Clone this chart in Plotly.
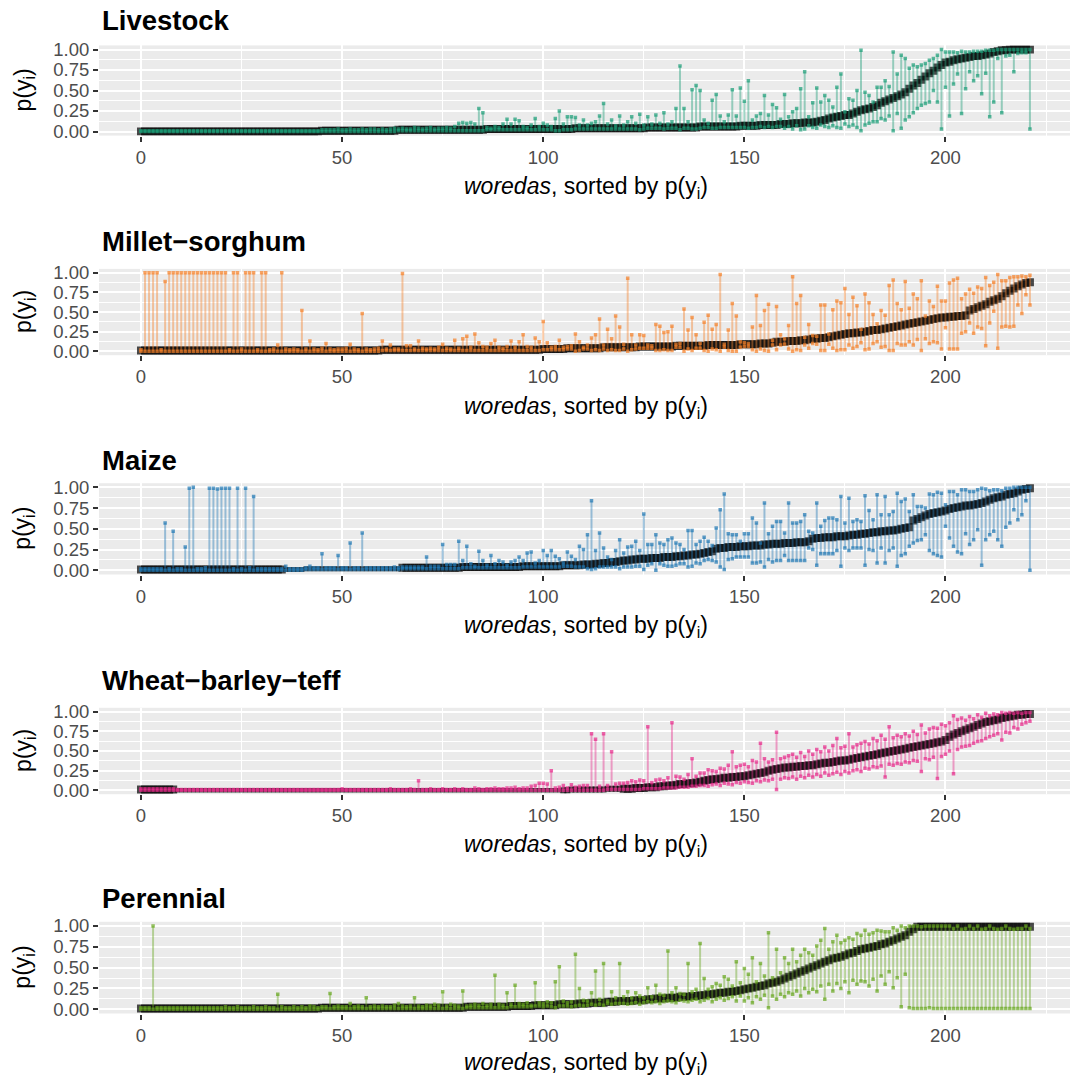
import plotly.graph_objects as go

# ---------------- data (values in hundredths of probability) ----------------
woreda_index = list(range(222))
x_tick_values = [0, 50, 100, 150, 200]
y_tick_values = [0, 0.25, 0.5, 0.75, 1.0]
y_tick_labels = ["0.00", "0.25", "0.50", "0.75", "1.00"]
panel_names = ["Livestock", "Millet\u2212sorghum", "Maize", "Wheat\u2212barley\u2212teff", "Perennial"]

livestock_p = [
    0,0,0,0,0,0,0,0,0,0,0,0,0,0,0,0,0,0,0,0,
    0,0,0,0,0,0,0,0,0,0,0,0,0,0,0,0,0,0,0,0,
    0,0,0,0,0,1,1,1,1,1,1,1,1,1,1,1,1,1,1,1,
    1,1,1,1,2,2,2,2,2,2,2,2,2,2,2,2,2,2,2,2,
    2,2,2,2,2,2,3,3,3,3,3,3,3,3,3,3,3,3,3,3,
    3,3,3,3,3,3,3,3,4,4,4,4,4,4,4,4,4,4,4,4,
    4,4,4,4,4,4,5,5,5,5,5,5,5,5,5,5,5,5,5,6,
    6,6,6,6,6,6,6,6,6,7,7,7,7,7,8,8,8,8,8,9,
    9,9,10,10,10,11,11,11,12,13,14,16,17,18,19,20,20,22,24,26,
    27,28,30,32,35,37,39,41,43,45,48,52,56,59,63,67,71,74,78,81,
    84,85,87,88,89,90,91,92,92,93,94,95,97,98,99,99,100,100,100,100,100,100]
livestock_lo = [
    0,0,0,0,0,0,0,0,0,0,0,0,0,0,0,0,0,0,0,0,
    0,0,0,0,0,0,0,0,0,0,0,0,0,0,0,0,0,0,0,0,
    0,0,0,0,0,0,0,0,0,0,0,0,0,0,0,0,0,0,0,0,
    0,0,0,0,1,1,1,1,1,1,1,1,1,1,1,1,1,1,1,1,
    1,1,1,1,1,1,2,2,2,2,2,2,2,2,2,2,2,2,2,2,
    2,2,2,1,1,2,2,2,3,3,3,3,3,3,3,3,3,3,3,3,
    3,3,3,3,2,3,4,4,4,4,3,4,4,4,2,4,4,3,3,4,
    5,5,4,4,5,5,5,5,5,5,5,4,5,5,6,5,6,5,6,6,
    4,6,3,7,2,3,7,5,4,8,6,5,7,5,4,9,6,8,5,1,
    8,10,12,12,16,14,19,1,22,4,14,18,23,28,32,34,36,50,36,3,
    54,19,58,70,22,52,73,62,68,46,71,18,36,89,23,92,93,73,95,96,96,3]
livestock_hi = [
    1,1,1,1,1,1,1,1,1,1,1,1,1,1,1,1,1,1,1,1,
    1,1,1,1,1,1,1,1,1,1,1,1,1,1,1,1,1,1,1,1,
    1,1,1,1,1,2,2,2,2,3,2,2,3,2,2,3,2,3,3,2,
    3,2,3,4,3,4,3,3,5,4,3,4,5,3,4,4,5,4,6,10,
    11,10,11,9,28,23,5,4,6,5,9,15,9,15,13,6,5,8,16,6,
    10,8,6,16,25,9,18,18,17,8,14,8,10,12,19,34,9,14,7,19,
    8,12,18,10,21,8,18,9,20,10,23,9,12,28,80,28,12,51,56,50,
    14,10,38,45,19,12,20,51,19,53,37,62,14,19,22,44,20,33,29,15,
    45,18,24,28,52,73,18,35,53,36,44,38,30,54,70,24,40,38,50,99,
    48,44,36,54,54,62,55,97,70,93,89,77,81,79,81,83,87,89,93,100,
    97,97,97,96,98,97,97,98,98,98,99,99,99,100,100,100,100,100,100,100,100,100]

millet_p = [
    1,1,1,1,1,1,1,1,1,1,1,1,1,1,1,1,1,1,1,1,
    1,1,1,1,1,1,1,1,1,1,1,1,1,1,1,1,1,1,1,1,
    1,1,1,1,1,1,1,1,1,1,1,1,1,1,1,1,1,1,1,1,
    2,2,2,2,2,2,2,2,2,2,2,2,2,2,2,2,2,2,2,2,
    2,2,2,2,2,2,2,2,2,2,2,2,2,2,2,2,2,2,2,2,
    3,3,3,3,3,3,4,4,4,4,4,4,4,4,4,5,5,5,5,5,
    5,5,5,5,6,6,6,6,6,6,6,6,6,7,7,7,7,7,7,7,
    7,8,8,8,8,8,8,8,8,9,9,9,9,9,10,10,10,11,12,12,
    12,13,13,13,14,14,15,16,16,17,17,18,19,20,21,22,23,23,24,24,
    25,26,27,27,28,29,30,31,32,33,34,35,36,37,38,39,40,41,42,43,
    43,44,44,45,45,46,52,54,56,58,60,63,65,67,70,74,77,80,83,85,87,88]
millet_lo = [
    0,0,0,0,0,0,0,0,0,0,0,0,0,0,0,0,0,0,0,0,
    0,0,0,0,0,0,0,0,0,0,0,0,0,0,0,0,0,0,0,0,
    0,0,0,0,0,0,0,0,0,0,0,0,0,0,0,0,0,0,0,0,
    1,1,1,1,1,1,1,1,1,1,1,1,1,1,1,1,1,1,1,1,
    1,1,1,1,1,1,1,1,1,1,1,1,1,1,1,1,1,1,1,1,
    2,2,2,2,2,2,3,3,0,1,3,3,1,2,1,3,1,2,1,1,
    3,0,2,3,4,4,4,4,1,1,2,1,1,5,5,0,3,1,4,4,
    1,0,3,2,0,5,1,0,0,5,6,6,2,0,3,1,0,8,2,8,
    9,3,0,2,1,8,4,10,9,1,1,9,4,1,2,2,8,4,6,11,
    2,3,10,12,5,6,1,1,10,8,8,12,8,15,1,16,10,12,11,3,
    30,3,3,3,23,25,36,23,31,29,7,36,51,4,31,32,31,32,59,48,72,59]
millet_hi = [
    2,100,100,100,100,2,89,100,100,100,100,100,100,100,100,100,100,100,100,100,
    100,100,2,100,100,3,100,100,100,2,100,100,2,3,8,100,3,2,3,2,
    52,3,13,3,2,4,10,3,2,3,3,4,9,3,2,48,3,2,3,4,
    13,3,8,3,3,99,7,7,3,13,4,3,4,3,5,9,4,3,14,4,
    16,19,5,22,11,6,5,10,14,5,4,6,13,5,12,21,6,5,17,12,
    38,11,5,6,14,5,6,7,22,12,5,8,17,21,41,8,28,16,45,31,
    9,93,21,8,21,20,8,7,34,32,24,25,32,9,10,54,27,43,21,10,
    37,46,28,34,98,9,27,61,45,12,11,10,31,71,33,52,60,14,57,21,
    16,33,95,61,71,18,34,20,19,59,59,22,53,64,62,80,47,69,58,28,
    73,62,47,35,52,46,84,91,61,53,89,55,73,67,90,45,64,57,83,64,
    64,87,91,93,67,73,79,74,82,80,94,84,88,98,90,90,94,95,95,96,95,97]

maize_p = [
    1,1,1,1,1,1,1,1,1,1,1,1,1,1,1,1,1,1,1,1,
    1,1,1,1,1,1,1,1,1,1,1,1,1,1,1,1,1,1,1,1,
    1,2,2,2,2,2,2,2,2,2,2,2,2,2,2,2,2,2,2,2,
    2,2,2,2,2,3,3,3,3,3,3,3,3,3,3,3,3,3,3,3,
    4,4,4,4,4,4,4,4,4,4,4,4,4,4,4,5,5,5,5,5,
    5,5,5,5,5,6,6,6,6,6,7,7,7,8,8,9,9,10,10,11,
    12,12,13,13,14,14,14,15,15,15,16,16,16,17,17,18,18,19,19,20,
    21,22,23,26,27,27,28,28,28,29,29,29,30,30,30,31,31,32,32,32,
    33,33,33,34,34,34,35,38,39,39,40,40,40,41,41,41,42,43,43,44,
    44,45,46,46,47,47,48,48,49,50,51,52,60,62,64,66,68,69,70,71,
    72,74,75,76,77,78,78,79,80,81,83,85,87,88,89,91,92,93,95,97,98,99]
maize_lo = [
    0,0,0,0,0,0,0,0,0,0,0,0,0,0,0,0,0,0,0,0,
    0,0,0,0,0,0,0,0,0,0,0,0,0,0,0,0,0,0,0,0,
    0,1,1,1,1,1,1,1,1,1,1,1,1,1,1,1,1,1,1,1,
    1,1,1,1,1,2,2,2,2,2,2,2,2,2,2,2,2,2,2,2,
    3,3,3,3,3,3,3,3,3,3,3,3,3,3,3,4,4,4,4,4,
    4,4,4,4,4,5,5,5,4,4,4,2,1,2,4,4,4,4,4,2,
    4,4,4,5,5,1,6,8,0,8,6,5,5,6,8,8,4,5,9,8,
    12,13,12,10,4,1,13,14,16,16,16,16,9,9,10,4,13,10,12,12,
    18,12,12,12,12,12,27,25,6,20,20,20,20,24,5,27,24,27,27,27,
    6,25,24,9,27,9,24,27,5,18,20,29,33,36,37,43,24,20,18,16,
    53,39,29,22,20,44,31,37,49,6,37,43,47,37,29,52,57,73,61,67,84,0]
maize_hi = [
    2,2,2,2,2,2,57,2,47,2,2,28,99,100,2,2,3,99,99,98,
    99,99,99,2,99,2,99,3,89,2,2,2,2,2,2,2,5,2,2,2,
    2,3,5,3,3,20,3,3,3,18,3,3,33,3,3,45,3,3,3,3,
    3,3,3,4,3,4,4,4,4,4,4,16,5,5,5,31,7,7,7,35,
    12,29,8,5,23,12,6,18,8,12,10,6,10,12,16,12,21,22,9,12,
    24,18,24,17,14,9,22,17,13,29,25,43,84,24,45,27,16,13,24,37,
    21,28,29,35,24,68,31,31,43,33,31,37,39,33,31,25,48,48,31,35,
    40,35,30,51,73,92,44,43,43,35,44,44,63,57,33,81,44,53,59,59,
    45,81,57,57,59,67,47,45,81,53,60,63,63,61,89,57,87,59,61,59,
    90,72,61,91,67,89,67,71,93,83,86,71,91,77,77,75,92,91,94,93,
    79,95,95,91,97,97,95,95,97,99,98,96,97,97,96,99,99,100,100,100,100,100]

wheat_p = [
    1,1,1,1,1,1,1,1,1,0,0,0,0,0,0,0,0,0,0,0,
    0,0,0,0,0,0,0,0,0,0,0,0,0,0,0,0,0,0,0,0,
    0,0,0,0,0,0,0,0,0,0,0,0,0,0,0,0,0,0,0,0,
    0,0,0,0,0,0,0,0,0,0,0,0,0,0,0,0,0,0,0,0,
    0,0,0,0,0,0,0,0,0,0,0,0,0,0,0,0,0,0,0,0,
    0,0,0,0,0,0,0,1,1,1,1,1,1,1,1,1,2,2,2,2,
    2,2,2,3,3,3,4,4,4,5,5,6,6,7,8,8,9,9,10,11,
    12,13,14,14,15,16,16,17,17,18,18,19,20,21,22,23,25,26,27,28,
    29,29,30,30,31,31,32,32,33,34,35,35,36,37,38,38,39,40,41,42,
    43,44,45,46,47,48,49,50,51,52,53,54,55,56,57,58,59,60,61,62,
    64,68,71,73,75,77,79,81,83,85,87,88,89,90,92,93,94,95,96,96,97,97]
wheat_lo = [
    0,0,0,0,0,0,0,0,0,0,0,0,0,0,0,0,0,0,0,0,
    0,0,0,0,0,0,0,0,0,0,0,0,0,0,0,0,0,0,0,0,
    0,0,0,0,0,0,0,0,0,0,0,0,0,0,0,0,0,0,0,0,
    0,0,0,0,0,0,0,0,0,0,0,0,0,0,0,0,0,0,0,0,
    0,0,0,0,0,0,0,0,0,0,0,0,0,0,0,0,0,0,0,0,
    0,0,0,0,0,0,0,0,0,0,0,0,0,0,0,0,1,1,1,1,
    1,1,1,1,1,2,2,2,2,2,3,3,3,3,4,4,4,5,5,6,
    6,5,7,8,6,9,8,7,10,9,11,10,9,12,11,13,12,14,1,14,
    16,15,17,14,18,16,19,17,20,18,22,19,21,23,20,24,22,25,26,24,
    28,27,30,29,31,17,33,32,34,33,36,35,38,37,24,40,39,42,15,43,
    46,50,21,52,55,56,57,60,62,63,66,68,70,72,64,74,73,80,78,84,86,88]
wheat_hi = [
    2,2,2,2,2,2,2,2,2,1,1,1,1,1,1,1,1,1,1,1,
    1,1,1,1,1,1,1,1,1,1,1,1,1,1,1,1,1,1,1,1,
    1,1,1,1,1,1,1,1,1,1,2,1,1,1,1,1,1,1,1,1,
    1,1,2,1,1,1,1,2,1,12,1,1,2,1,1,2,1,1,2,1,
    2,1,1,3,2,1,2,2,3,2,2,3,3,4,2,3,3,5,6,9,
    9,8,25,3,4,6,3,7,4,5,6,6,72,65,5,72,6,49,8,9,
    9,10,12,11,13,12,81,10,13,14,12,16,86,18,17,14,20,40,18,22,
    22,26,25,24,28,27,32,49,30,32,33,30,38,36,60,40,36,39,74,40,
    42,44,46,42,48,43,50,46,52,49,55,50,57,66,54,56,72,55,58,60,
    62,59,66,63,70,65,81,67,70,68,72,69,75,71,83,73,78,80,79,84,
    82,86,95,90,92,89,94,91,96,93,98,95,97,96,99,98,99,98,99,98,99,99]

perennial_p = [
    1,1,1,1,1,1,1,1,1,1,1,1,1,1,1,1,1,1,1,1,
    1,1,1,1,1,1,1,1,1,1,1,1,1,1,1,1,1,1,1,1,
    1,1,1,1,1,2,2,2,2,2,2,2,2,2,2,2,2,2,2,2,
    2,2,2,2,2,2,2,2,2,2,2,2,2,2,2,2,2,2,2,2,
    2,3,3,3,3,3,3,3,3,3,3,3,4,4,4,4,4,4,5,5,
    5,5,5,5,6,6,6,6,6,7,7,7,8,8,8,8,9,9,9,10,
    10,10,10,11,11,11,12,12,13,13,13,14,14,14,15,15,15,16,16,17,
    17,18,18,19,20,20,21,21,22,23,24,25,26,27,28,29,31,32,33,35,
    37,39,41,43,45,47,49,51,53,55,57,59,61,62,63,65,67,68,70,72,
    73,74,75,76,78,79,81,83,85,87,89,93,96,99,99,99,99,99,99,99,
    99,99,99,99,99,99,99,99,99,99,99,99,99,99,99,99,99,99,99,99,99,99]
perennial_lo = [
    0,0,0,0,0,0,0,0,0,0,0,0,0,0,0,0,0,0,0,0,
    0,0,0,0,0,0,0,0,0,0,0,0,0,0,0,0,0,0,0,0,
    0,0,0,0,0,1,1,1,1,1,1,1,1,1,1,1,1,1,1,1,
    1,1,1,1,1,1,1,1,1,1,1,1,1,1,1,1,1,1,1,1,
    1,2,2,2,2,2,2,2,2,2,2,2,3,3,3,3,3,3,4,4,
    3,4,3,2,4,4,4,3,4,5,4,5,6,5,6,5,7,6,7,7,
    7,6,7,8,6,8,9,8,9,7,9,10,9,8,11,10,9,11,12,9,
    11,13,9,12,14,11,13,15,10,16,10,14,8,15,12,17,2,16,12,18,
    15,20,18,22,16,25,20,24,21,28,12,30,22,31,25,33,20,35,30,34,
    33,28,36,22,40,30,45,26,38,3,42,2,1,1,1,1,2,1,1,1,
    1,1,1,1,1,1,1,1,1,1,1,1,1,1,1,1,1,1,1,1,1,1]
perennial_hi = [
    2,2,2,100,2,2,2,2,2,2,2,2,2,2,2,2,2,2,2,2,
    2,3,2,2,3,2,2,2,3,2,2,3,2,2,18,3,2,2,3,2,
    3,2,4,3,2,3,3,19,3,4,3,3,7,3,4,3,14,3,4,3,
    4,3,3,5,7,4,3,4,14,4,3,5,4,6,5,21,4,6,5,4,
    22,4,5,6,5,7,5,6,41,6,5,20,6,29,7,6,8,5,32,8,
    7,9,8,33,51,10,8,9,66,25,11,10,20,46,12,55,10,21,14,55,
    15,21,14,20,16,14,26,15,29,18,17,70,20,26,19,18,55,21,24,79,
    37,24,27,31,29,39,36,28,57,32,49,42,62,33,55,40,92,38,72,44,
    62,55,72,57,65,72,68,65,76,83,97,72,81,89,80,83,86,84,91,89,
    95,90,92,95,94,93,93,98,95,100,98,100,100,100,99,100,100,100,100,100,
    100,100,97,100,96,97,100,97,100,96,97,100,97,96,97,100,97,96,97,97,100,97]

# ---------------- styling ----------------
W, H = 1075, 1082
FONT = "Liberation Sans, Arial, Helvetica, sans-serif"
panel_colors = [(27, 158, 119), (245, 128, 40), (31, 120, 180), (231, 41, 138), (102, 166, 30)]
panel_px = [(45.4, 135.6), (268.9, 355.2), (483.2, 574.5), (707.8, 794.2), (921.8, 1013.5)]
title_px = [20, 241, 460, 680, 898]
xtitle_px = [188, 407, 626, 845, 1063]
x_dom = [99 / W, 1070 / W]
x_range = [-10.44, 230.96]

series = [
    (livestock_p, livestock_lo, livestock_hi),
    (millet_p, millet_lo, millet_hi),
    (maize_p, maize_lo, maize_hi),
    (wheat_p, wheat_lo, wheat_hi),
    (perennial_p, perennial_lo, perennial_hi),
]


def point_sizes(k):
    sizes = []
    for i in woreda_index:
        s = 8
        if k == 2 and 36 <= i <= 64:
            s = 5
        if k == 3 and 9 <= i <= 104:
            s = 4.5
        elif k == 3 and 105 <= i <= 119:
            s = 6
        sizes.append(s)
    return sizes


fig = go.Figure()
annotations = []
layout = dict(
    width=W, height=H,
    margin=dict(l=0, r=0, t=0, b=0),
    paper_bgcolor="white", plot_bgcolor="#EBEBEB",
    showlegend=False, template="none",
    font=dict(family=FONT),
)

for k, (p, lo, hi) in enumerate(series):
    assert len(p) == 222 and len(lo) == 222 and len(hi) == 222, (k, len(p), len(lo), len(hi))
    sfx = "" if k == 0 else str(k + 1)
    r, g, b = panel_colors[k]
    xa, ya = "x" + sfx, "y" + sfx

    py = [v / 100 for v in p]
    seg_x, seg_y = [], []
    for i in woreda_index:
        seg_x += [i, i, None]
        seg_y += [lo[i] / 100, hi[i] / 100, None]

    fig.add_trace(go.Scatter(
        x=woreda_index, y=py, mode="markers", xaxis=xa, yaxis=ya,
        marker=dict(symbol="square", size=point_sizes(k), color="black",
                    line=dict(width=0)),
        hoverinfo="skip"))
    fig.add_trace(go.Scatter(
        x=seg_x, y=seg_y, mode="lines", xaxis=xa, yaxis=ya,
        line=dict(color=f"rgba({r},{g},{b},0.42)", width=2),
        hoverinfo="skip"))
    fig.add_trace(go.Scatter(
        x=woreda_index + woreda_index,
        y=[v / 100 for v in lo] + [v / 100 for v in hi],
        mode="markers", xaxis=xa, yaxis=ya,
        marker=dict(symbol="square", size=3.5, color=f"rgba({r},{g},{b},0.7)",
                    line=dict(width=0)),
        hoverinfo="skip"))

    top, bot = panel_px[k]
    layout["xaxis" + sfx] = dict(
        domain=x_dom, range=x_range, anchor=ya,
        tickmode="array", tickvals=x_tick_values,
        ticks="outside", ticklen=5, tickwidth=2, tickcolor="#333333",
        tickfont=dict(size=18.5, color="#4D4D4D", family=FONT),
        showgrid=True, gridcolor="white", gridwidth=2,
        minor=dict(tickvals=[25, 75, 125, 175, 225], showgrid=True,
                   gridcolor="white", gridwidth=1, ticks=""),
        zeroline=False, showline=False, automargin=False, fixedrange=True)
    layout["yaxis" + sfx] = dict(
        domain=[1 - bot / H, 1 - top / H], range=[-0.05, 1.05], anchor=xa,
        tickmode="array", tickvals=y_tick_values, ticktext=y_tick_labels,
        ticks="outside", ticklen=5, tickwidth=2, tickcolor="#333333",
        tickfont=dict(size=18.5, color="#4D4D4D", family=FONT),
        showgrid=True, gridcolor="white", gridwidth=2,
        minor=dict(tickvals=[0.125, 0.375, 0.625, 0.875], showgrid=True,
                   gridcolor="white", gridwidth=1, ticks=""),
        zeroline=False, showline=False, automargin=False, fixedrange=True)

    annotations.append(dict(
        text="<b>" + panel_names[k] + "</b>", x=100 / W, y=1 - title_px[k] / H,
        xref="paper", yref="paper", xanchor="left", yanchor="middle",
        showarrow=False, font=dict(size=27.5, color="black", family=FONT)))
    annotations.append(dict(
        text="p(y<sub>i</sub>)", x=24 / W, y=1 - (top + bot) / 2 / H,
        xref="paper", yref="paper", xanchor="center", yanchor="middle",
        textangle=-90, showarrow=False,
        font=dict(size=23, color="black", family=FONT)))
    annotations.append(dict(
        text="<i>woredas</i>, sorted by p(y<sub>i</sub>)", x=586 / W,
        y=1 - xtitle_px[k] / H, xref="paper", yref="paper",
        xanchor="center", yanchor="middle", showarrow=False,
        font=dict(size=23, color="black", family=FONT)))

layout["annotations"] = annotations
fig.update_layout(**layout)
fig.write_html(
    "out.html",
    config={"displayModeBar": False, "staticPlot": False},
    post_script="document.body.style.margin='0';document.body.style.padding='0';"
                "document.documentElement.style.overflow='hidden';")
